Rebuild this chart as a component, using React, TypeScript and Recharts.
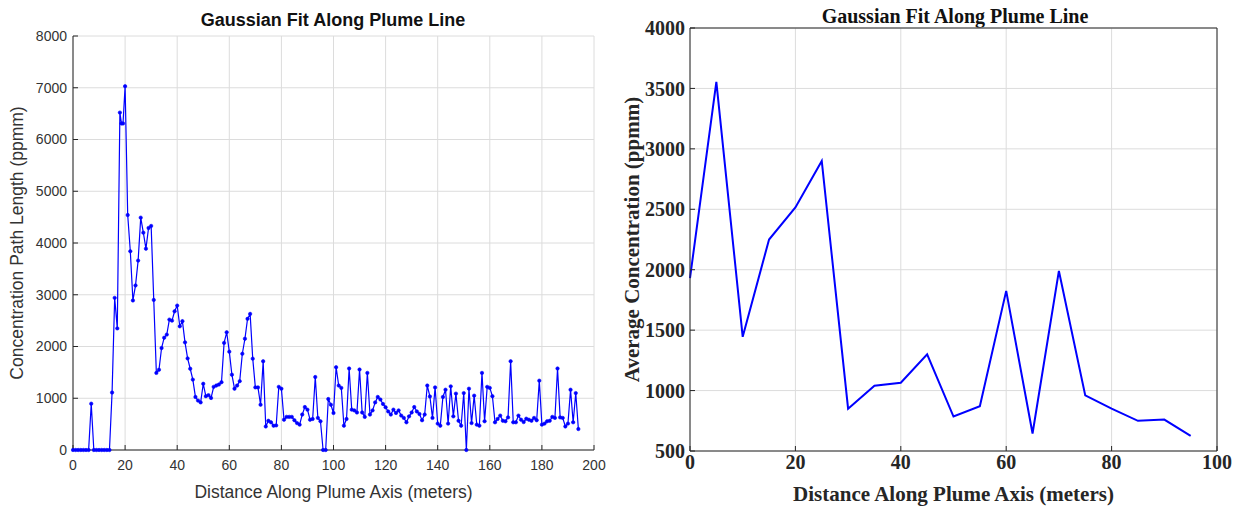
import React from 'react';
import { LineChart, Line, XAxis, YAxis, CartesianGrid } from 'recharts';

const plumeDistances = [
  0, 1, 2, 3, 4, 5, 6, 7, 8, 9, 10, 11, 12, 13, 14, 15, 16, 17, 18, 18.6, 19.2,
  20, 21, 22, 23, 24, 25, 26, 27, 28, 29, 30, 31, 32, 33, 34, 35, 36, 37, 38, 39,
  40, 41, 42, 43, 44, 45, 46, 47, 48, 49, 50, 51, 52, 53, 54, 55, 56, 57, 58, 59,
  60, 61, 62, 63, 64, 65, 66, 67, 68, 69, 70, 71, 72, 73, 74, 75, 76, 77, 78, 79,
  80, 81, 82, 83, 84, 85, 86, 87, 88, 89, 90, 91, 92, 93, 94, 95, 96, 97, 98, 99,
  100, 101, 102, 103, 104, 105, 106, 107, 108, 109, 110, 111, 112, 113, 114, 115, 116, 117, 118, 119,
  120, 121, 122, 123, 124, 125, 126, 127, 128, 129, 130, 131, 132, 133, 134, 135, 136, 137, 138, 139,
  140, 141, 142, 143, 144, 145, 146, 147, 148, 149, 150, 151, 152, 153, 154, 155, 156, 157, 158, 159,
  160, 161, 162, 163, 164, 165, 166, 167, 168, 169, 170, 171, 172, 173, 174, 175, 176, 177, 178, 179,
  180, 181, 182, 183, 184, 185, 186, 187, 188, 189, 190, 191, 192, 193, 194,
];

const pathLengthValues = [
  0, 0, 0, 0, 0, 0, 0, 895, 0, 0, 0, 0, 0, 0, 0, 1110, 2940, 2350, 6520, 6310, 6310,
  7030, 4540, 3840, 2890, 3180, 3660, 4490, 4200, 3890, 4290, 4330, 2900, 1490, 1550, 1970, 2170, 2230, 2520, 2500, 2680,
  2790, 2390, 2490, 2080, 1770, 1570, 1360, 1025, 955, 920, 1280, 1040, 1060, 1005, 1220, 1245, 1265, 1310, 2070, 2275,
  1900, 1455, 1185, 1245, 1330, 1860, 2150, 2535, 2630, 1765, 1210, 1210, 875, 1715, 455, 565, 535, 470, 475, 1220,
  1185, 585, 640, 640, 640, 575, 520, 490, 685, 830, 780, 585, 600, 1410, 620, 555, 0, 0, 985, 875,
  715, 1600, 1245, 1200, 470, 600, 1575, 780, 765, 725, 1555, 725, 640, 1490, 685, 765, 920, 1025, 975, 890,
  825, 745, 685, 780, 715, 765, 665, 620, 535, 650, 725, 830, 745, 695, 575, 685, 1245, 1035, 620, 1210,
  510, 470, 1025, 1165, 510, 1230, 650, 1090, 565, 470, 1100, 0, 1185, 520, 1050, 490, 470, 1490, 555, 1220,
  1200, 1040, 535, 600, 665, 565, 555, 630, 1715, 535, 535, 665, 585, 540, 605, 585, 565, 620, 575, 1340,
  490, 510, 555, 565, 640, 620, 1575, 630, 620, 455, 510, 1165, 535, 1100, 405,
];

const avgDistances = [0, 5, 10, 15, 20, 25, 30, 35, 40, 45, 50, 55, 60, 65, 70, 75, 80, 85, 90, 95];
const avgValues = [1930, 3555, 1445, 2250, 2515, 2900, 850, 1040, 1065, 1300, 785, 870, 1825, 645, 1990, 960, 850, 750, 760, 625];

const leftXTicks = [0, 20, 40, 60, 80, 100, 120, 140, 160, 180, 200];
const leftYTicks = [0, 1000, 2000, 3000, 4000, 5000, 6000, 7000, 8000];
const rightXTicks = [0, 20, 40, 60, 80, 100];
const rightYTicks = [500, 1000, 1500, 2000, 2500, 3000, 3500, 4000];

const chartTitle = 'Gaussian Fit Along Plume Line';
const leftXLabel = 'Distance Along Plume Axis (meters)';
const leftYLabel = 'Concentration Path Length (ppmm)';
const rightXLabel = 'Distance Along Plume Axis (meters)';
const rightYLabel = 'Average Concentration (ppmm)';

const leftData = plumeDistances.map((x, i) => ({ x, v: pathLengthValues[i] }));
const rightData = avgDistances.map((x, i) => ({ x, v: avgValues[i] }));

const SANS = '"Liberation Sans", Arial, Helvetica, sans-serif';
const SERIF = '"Liberation Serif", "Times New Roman", Times, serif';
const AXIS = '#262626';
const GRID = '#dcdcdc';

export default function App() {
  return (
    <div style={{ position: 'absolute', left: 0, top: 0, width: 1241, height: 506, background: '#fff', overflow: 'hidden' }}>
      <div
        style={{
          position: 'absolute', left: 133, top: 11, width: 400, textAlign: 'center',
          fontFamily: SANS, fontWeight: 'bold', fontSize: 18, lineHeight: '18px', color: '#111',
        }}
      >
        {chartTitle}
      </div>
      <div style={{ position: 'absolute', left: 0, top: 0 }}>
        <LineChart width={620} height={506} data={leftData} margin={{ top: 36, right: 26, bottom: 0, left: 0 }}>
          <CartesianGrid stroke={GRID} strokeWidth={1} />
          <XAxis
            dataKey="x"
            type="number"
            domain={[0, 200]}
            ticks={leftXTicks}
            interval={0}
            height={56}
            tickSize={-5}
            tickMargin={15}
            axisLine={{ stroke: AXIS, strokeWidth: 1 }}
            tickLine={{ stroke: AXIS, strokeWidth: 1 }}
            tick={{ fill: '#333', fontSize: 14, fontFamily: SANS }}
            label={{ value: leftXLabel, position: 'insideBottom', offset: 8, fill: '#333', fontSize: 17.5, fontFamily: SANS }}
          />
          <YAxis
            type="number"
            domain={[0, 8000]}
            ticks={leftYTicks}
            interval={0}
            width={73}
            tickSize={-5}
            tickMargin={11}
            axisLine={{ stroke: AXIS, strokeWidth: 1 }}
            tickLine={{ stroke: AXIS, strokeWidth: 1 }}
            tick={{ fill: '#333', fontSize: 14, fontFamily: SANS }}
            label={{ value: leftYLabel, angle: -90, position: 'insideLeft', offset: 17, fill: '#333', fontSize: 17.5, fontFamily: SANS, style: { textAnchor: 'middle' } }}
          />
          <Line
            dataKey="v"
            type="linear"
            stroke="#0000ff"
            strokeWidth={1.2}
            dot={{ r: 1.7, fill: '#0000ff', stroke: '#0000ff', strokeWidth: 0.6 }}
            isAnimationActive={false}
          />
        </LineChart>
      </div>

      <div
        style={{
          position: 'absolute', left: 755, top: 6, width: 400, textAlign: 'center',
          fontFamily: SERIF, fontWeight: 'bold', fontSize: 20, lineHeight: '20px', color: '#111',
        }}
      >
        {chartTitle}
      </div>
      <div style={{ position: 'absolute', left: 620, top: 0 }}>
        <LineChart width={621} height={506} data={rightData} margin={{ top: 28, right: 24, bottom: 0, left: 0 }}>
          <CartesianGrid xAxisId="b" yAxisId="l" stroke={GRID} strokeWidth={1} />
          <XAxis
            xAxisId="b"
            dataKey="x"
            type="number"
            domain={[0, 100]}
            ticks={rightXTicks}
            interval={0}
            height={55}
            tickSize={-5}
            tickMargin={9}
            axisLine={{ stroke: AXIS, strokeWidth: 1 }}
            tickLine={{ stroke: AXIS, strokeWidth: 1 }}
            tick={{ fill: AXIS, fontSize: 20, fontFamily: SERIF, fontWeight: 'bold' }}
            label={{ value: rightXLabel, position: 'insideBottom', offset: 5, fill: AXIS, fontSize: 21, fontFamily: SERIF, fontWeight: 'bold' }}
          />
          <XAxis
            xAxisId="t"
            orientation="top"
            dataKey="x"
            type="number"
            domain={[0, 100]}
            ticks={rightXTicks}
            interval={0}
            mirror
            tickSize={5}
            tick={false}
            axisLine={{ stroke: AXIS, strokeWidth: 1 }}
            tickLine={{ stroke: AXIS, strokeWidth: 1 }}
          />
          <YAxis
            yAxisId="l"
            type="number"
            domain={[500, 4000]}
            ticks={rightYTicks}
            interval={0}
            width={70}
            tickSize={-5}
            tickMargin={10}
            axisLine={{ stroke: AXIS, strokeWidth: 1 }}
            tickLine={{ stroke: AXIS, strokeWidth: 1 }}
            tick={{ fill: AXIS, fontSize: 20, fontFamily: SERIF, fontWeight: 'bold' }}
            label={{ value: rightYLabel, angle: -90, position: 'insideLeft', offset: 12, fill: AXIS, fontSize: 21, fontFamily: SERIF, fontWeight: 'bold', style: { textAnchor: 'middle' } }}
          />
          <YAxis
            yAxisId="r"
            orientation="right"
            type="number"
            domain={[500, 4000]}
            ticks={rightYTicks}
            interval={0}
            mirror
            tickSize={5}
            tick={false}
            axisLine={{ stroke: AXIS, strokeWidth: 1 }}
            tickLine={{ stroke: AXIS, strokeWidth: 1 }}
          />
          <Line
            xAxisId="b"
            yAxisId="l"
            dataKey="v"
            type="linear"
            stroke="#0000ff"
            strokeWidth={2}
            dot={false}
            isAnimationActive={false}
          />
        </LineChart>
      </div>
    </div>
  );
}
